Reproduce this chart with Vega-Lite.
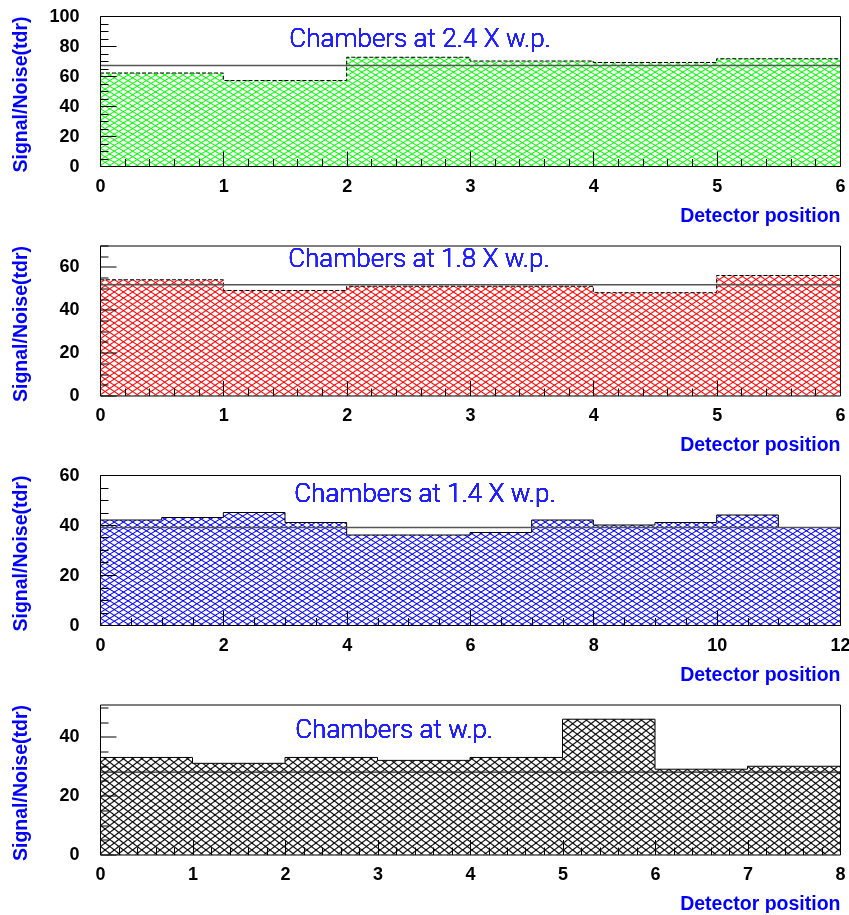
{
"$schema": "https://vega.github.io/schema/vega-lite/v6.json",
"background": "white",
"padding": {"left": 9, "top": 7, "right": 0, "bottom": 0},
"spacing": 79.5,
"bounds": "flush",
"config": {
 "view": {"stroke": null},
 "axis": {"grid": false, "zindex": 1, "labelFont": "Liberation Sans", "labelFontWeight": "bold", "labelFontSize": 18, "labelColor": "#000", "titleFont": "Liberation Sans", "titleFontWeight": "bold", "titleFontSize": 19.5, "titleColor": "#0000ff", "tickColor": "#000", "tickWidth": 1, "domainColor": "#000", "domainWidth": 1, "labelOverlap": false, "labelFlush": false},
 "style": {
  "hatchA": {"color": {"gradient": "linear", "x1": 0, "y1": 1, "x2": 1.172, "y2": 0.72, "stops": [
{"offset":0,"color":"#fff"},{"offset":0.002,"color":"#000"},{"offset":0.004,"color":"#fff"},
{"offset":0.01,"color":"#fff"},{"offset":0.012,"color":"#000"},{"offset":0.014,"color":"#fff"},
{"offset":0.02,"color":"#fff"},{"offset":0.022,"color":"#000"},{"offset":0.024,"color":"#fff"},
{"offset":0.03,"color":"#fff"},{"offset":0.032,"color":"#000"},{"offset":0.034,"color":"#fff"},
{"offset":0.04,"color":"#fff"},{"offset":0.042,"color":"#000"},{"offset":0.044,"color":"#fff"},
{"offset":0.05,"color":"#fff"},{"offset":0.052,"color":"#000"},{"offset":0.054,"color":"#fff"},
{"offset":0.06,"color":"#fff"},{"offset":0.062,"color":"#000"},{"offset":0.064,"color":"#fff"},
{"offset":0.07,"color":"#fff"},{"offset":0.072,"color":"#000"},{"offset":0.074,"color":"#fff"},
{"offset":0.08,"color":"#fff"},{"offset":0.082,"color":"#000"},{"offset":0.084,"color":"#fff"},
{"offset":0.09,"color":"#fff"},{"offset":0.092,"color":"#000"},{"offset":0.094,"color":"#fff"},
{"offset":0.1,"color":"#fff"},{"offset":0.102,"color":"#000"},{"offset":0.104,"color":"#fff"},
{"offset":0.11,"color":"#fff"},{"offset":0.112,"color":"#000"},{"offset":0.114,"color":"#fff"},
{"offset":0.12,"color":"#fff"},{"offset":0.122,"color":"#000"},{"offset":0.124,"color":"#fff"},
{"offset":0.13,"color":"#fff"},{"offset":0.132,"color":"#000"},{"offset":0.134,"color":"#fff"},
{"offset":0.14,"color":"#fff"},{"offset":0.142,"color":"#000"},{"offset":0.144,"color":"#fff"},
{"offset":0.15,"color":"#fff"},{"offset":0.152,"color":"#000"},{"offset":0.154,"color":"#fff"},
{"offset":0.16,"color":"#fff"},{"offset":0.162,"color":"#000"},{"offset":0.164,"color":"#fff"},
{"offset":0.17,"color":"#fff"},{"offset":0.172,"color":"#000"},{"offset":0.174,"color":"#fff"},
{"offset":0.18,"color":"#fff"},{"offset":0.182,"color":"#000"},{"offset":0.184,"color":"#fff"},
{"offset":0.19,"color":"#fff"},{"offset":0.192,"color":"#000"},{"offset":0.194,"color":"#fff"},
{"offset":0.2,"color":"#fff"},{"offset":0.202,"color":"#000"},{"offset":0.204,"color":"#fff"},
{"offset":0.21,"color":"#fff"},{"offset":0.212,"color":"#000"},{"offset":0.214,"color":"#fff"},
{"offset":0.22,"color":"#fff"},{"offset":0.222,"color":"#000"},{"offset":0.224,"color":"#fff"},
{"offset":0.23,"color":"#fff"},{"offset":0.232,"color":"#000"},{"offset":0.234,"color":"#fff"},
{"offset":0.24,"color":"#fff"},{"offset":0.242,"color":"#000"},{"offset":0.244,"color":"#fff"},
{"offset":0.25,"color":"#fff"},{"offset":0.252,"color":"#000"},{"offset":0.254,"color":"#fff"},
{"offset":0.26,"color":"#fff"},{"offset":0.262,"color":"#000"},{"offset":0.264,"color":"#fff"},
{"offset":0.27,"color":"#fff"},{"offset":0.272,"color":"#000"},{"offset":0.274,"color":"#fff"},
{"offset":0.28,"color":"#fff"},{"offset":0.282,"color":"#000"},{"offset":0.284,"color":"#fff"},
{"offset":0.29,"color":"#fff"},{"offset":0.292,"color":"#000"},{"offset":0.294,"color":"#fff"},
{"offset":0.3,"color":"#fff"},{"offset":0.302,"color":"#000"},{"offset":0.304,"color":"#fff"},
{"offset":0.31,"color":"#fff"},{"offset":0.312,"color":"#000"},{"offset":0.314,"color":"#fff"},
{"offset":0.32,"color":"#fff"},{"offset":0.322,"color":"#000"},{"offset":0.324,"color":"#fff"},
{"offset":0.33,"color":"#fff"},{"offset":0.332,"color":"#000"},{"offset":0.334,"color":"#fff"},
{"offset":0.34,"color":"#fff"},{"offset":0.342,"color":"#000"},{"offset":0.344,"color":"#fff"},
{"offset":0.35,"color":"#fff"},{"offset":0.352,"color":"#000"},{"offset":0.354,"color":"#fff"},
{"offset":0.36,"color":"#fff"},{"offset":0.362,"color":"#000"},{"offset":0.364,"color":"#fff"},
{"offset":0.37,"color":"#fff"},{"offset":0.372,"color":"#000"},{"offset":0.374,"color":"#fff"},
{"offset":0.38,"color":"#fff"},{"offset":0.382,"color":"#000"},{"offset":0.384,"color":"#fff"},
{"offset":0.39,"color":"#fff"},{"offset":0.392,"color":"#000"},{"offset":0.394,"color":"#fff"},
{"offset":0.4,"color":"#fff"},{"offset":0.402,"color":"#000"},{"offset":0.404,"color":"#fff"},
{"offset":0.41,"color":"#fff"},{"offset":0.412,"color":"#000"},{"offset":0.414,"color":"#fff"},
{"offset":0.42,"color":"#fff"},{"offset":0.422,"color":"#000"},{"offset":0.424,"color":"#fff"},
{"offset":0.43,"color":"#fff"},{"offset":0.432,"color":"#000"},{"offset":0.434,"color":"#fff"},
{"offset":0.44,"color":"#fff"},{"offset":0.442,"color":"#000"},{"offset":0.444,"color":"#fff"},
{"offset":0.45,"color":"#fff"},{"offset":0.452,"color":"#000"},{"offset":0.454,"color":"#fff"},
{"offset":0.46,"color":"#fff"},{"offset":0.462,"color":"#000"},{"offset":0.464,"color":"#fff"},
{"offset":0.47,"color":"#fff"},{"offset":0.472,"color":"#000"},{"offset":0.474,"color":"#fff"},
{"offset":0.48,"color":"#fff"},{"offset":0.482,"color":"#000"},{"offset":0.484,"color":"#fff"},
{"offset":0.49,"color":"#fff"},{"offset":0.492,"color":"#000"},{"offset":0.494,"color":"#fff"},
{"offset":0.5,"color":"#fff"},{"offset":0.502,"color":"#000"},{"offset":0.504,"color":"#fff"},
{"offset":0.51,"color":"#fff"},{"offset":0.512,"color":"#000"},{"offset":0.514,"color":"#fff"},
{"offset":0.52,"color":"#fff"},{"offset":0.522,"color":"#000"},{"offset":0.524,"color":"#fff"},
{"offset":0.53,"color":"#fff"},{"offset":0.532,"color":"#000"},{"offset":0.534,"color":"#fff"},
{"offset":0.54,"color":"#fff"},{"offset":0.542,"color":"#000"},{"offset":0.544,"color":"#fff"},
{"offset":0.55,"color":"#fff"},{"offset":0.552,"color":"#000"},{"offset":0.554,"color":"#fff"},
{"offset":0.56,"color":"#fff"},{"offset":0.562,"color":"#000"},{"offset":0.564,"color":"#fff"},
{"offset":0.57,"color":"#fff"},{"offset":0.572,"color":"#000"},{"offset":0.574,"color":"#fff"},
{"offset":0.58,"color":"#fff"},{"offset":0.582,"color":"#000"},{"offset":0.584,"color":"#fff"},
{"offset":0.59,"color":"#fff"},{"offset":0.592,"color":"#000"},{"offset":0.594,"color":"#fff"},
{"offset":0.6,"color":"#fff"},{"offset":0.602,"color":"#000"},{"offset":0.604,"color":"#fff"},
{"offset":0.61,"color":"#fff"},{"offset":0.612,"color":"#000"},{"offset":0.614,"color":"#fff"},
{"offset":0.62,"color":"#fff"},{"offset":0.622,"color":"#000"},{"offset":0.624,"color":"#fff"},
{"offset":0.63,"color":"#fff"},{"offset":0.632,"color":"#000"},{"offset":0.634,"color":"#fff"},
{"offset":0.64,"color":"#fff"},{"offset":0.642,"color":"#000"},{"offset":0.644,"color":"#fff"},
{"offset":0.65,"color":"#fff"},{"offset":0.652,"color":"#000"},{"offset":0.654,"color":"#fff"},
{"offset":0.66,"color":"#fff"},{"offset":0.662,"color":"#000"},{"offset":0.664,"color":"#fff"},
{"offset":0.67,"color":"#fff"},{"offset":0.672,"color":"#000"},{"offset":0.674,"color":"#fff"},
{"offset":0.68,"color":"#fff"},{"offset":0.682,"color":"#000"},{"offset":0.684,"color":"#fff"},
{"offset":0.69,"color":"#fff"},{"offset":0.692,"color":"#000"},{"offset":0.694,"color":"#fff"},
{"offset":0.7,"color":"#fff"},{"offset":0.702,"color":"#000"},{"offset":0.704,"color":"#fff"},
{"offset":0.71,"color":"#fff"},{"offset":0.712,"color":"#000"},{"offset":0.714,"color":"#fff"},
{"offset":0.72,"color":"#fff"},{"offset":0.722,"color":"#000"},{"offset":0.724,"color":"#fff"},
{"offset":0.73,"color":"#fff"},{"offset":0.732,"color":"#000"},{"offset":0.734,"color":"#fff"},
{"offset":0.74,"color":"#fff"},{"offset":0.742,"color":"#000"},{"offset":0.744,"color":"#fff"},
{"offset":0.75,"color":"#fff"},{"offset":0.752,"color":"#000"},{"offset":0.754,"color":"#fff"},
{"offset":0.76,"color":"#fff"},{"offset":0.762,"color":"#000"},{"offset":0.764,"color":"#fff"},
{"offset":0.77,"color":"#fff"},{"offset":0.772,"color":"#000"},{"offset":0.774,"color":"#fff"},
{"offset":0.78,"color":"#fff"},{"offset":0.782,"color":"#000"},{"offset":0.784,"color":"#fff"},
{"offset":0.79,"color":"#fff"},{"offset":0.792,"color":"#000"},{"offset":0.794,"color":"#fff"},
{"offset":0.8,"color":"#fff"},{"offset":0.802,"color":"#000"},{"offset":0.804,"color":"#fff"},
{"offset":0.81,"color":"#fff"},{"offset":0.812,"color":"#000"},{"offset":0.814,"color":"#fff"},
{"offset":0.82,"color":"#fff"},{"offset":0.822,"color":"#000"},{"offset":0.824,"color":"#fff"},
{"offset":0.83,"color":"#fff"},{"offset":0.832,"color":"#000"},{"offset":0.834,"color":"#fff"},
{"offset":0.84,"color":"#fff"},{"offset":0.842,"color":"#000"},{"offset":0.844,"color":"#fff"},
{"offset":0.85,"color":"#fff"},{"offset":0.852,"color":"#000"},{"offset":0.854,"color":"#fff"},
{"offset":0.86,"color":"#fff"},{"offset":0.862,"color":"#000"},{"offset":0.864,"color":"#fff"},
{"offset":0.87,"color":"#fff"},{"offset":0.872,"color":"#000"},{"offset":0.874,"color":"#fff"},
{"offset":0.88,"color":"#fff"},{"offset":0.882,"color":"#000"},{"offset":0.884,"color":"#fff"},
{"offset":0.89,"color":"#fff"},{"offset":0.892,"color":"#000"},{"offset":0.894,"color":"#fff"},
{"offset":0.9,"color":"#fff"},{"offset":0.902,"color":"#000"},{"offset":0.904,"color":"#fff"},
{"offset":0.91,"color":"#fff"},{"offset":0.912,"color":"#000"},{"offset":0.914,"color":"#fff"},
{"offset":0.92,"color":"#fff"},{"offset":0.922,"color":"#000"},{"offset":0.924,"color":"#fff"},
{"offset":0.93,"color":"#fff"},{"offset":0.932,"color":"#000"},{"offset":0.934,"color":"#fff"},
{"offset":0.94,"color":"#fff"},{"offset":0.942,"color":"#000"},{"offset":0.944,"color":"#fff"},
{"offset":0.95,"color":"#fff"},{"offset":0.952,"color":"#000"},{"offset":0.954,"color":"#fff"},
{"offset":0.96,"color":"#fff"},{"offset":0.962,"color":"#000"},{"offset":0.964,"color":"#fff"},
{"offset":0.97,"color":"#fff"},{"offset":0.972,"color":"#000"},{"offset":0.974,"color":"#fff"},
{"offset":0.98,"color":"#fff"},{"offset":0.982,"color":"#000"},{"offset":0.984,"color":"#fff"},
{"offset":0.99,"color":"#fff"},{"offset":0.992,"color":"#000"},{"offset":0.994,"color":"#fff"}
  ]}},
  "hatchB": {"color": {"gradient": "linear", "x1": 0, "y1": 0, "x2": 1.172, "y2": 0.28, "stops": [
{"offset":0,"color":"#fff"},{"offset":0.002,"color":"#000"},{"offset":0.004,"color":"#fff"},
{"offset":0.01,"color":"#fff"},{"offset":0.012,"color":"#000"},{"offset":0.014,"color":"#fff"},
{"offset":0.02,"color":"#fff"},{"offset":0.022,"color":"#000"},{"offset":0.024,"color":"#fff"},
{"offset":0.03,"color":"#fff"},{"offset":0.032,"color":"#000"},{"offset":0.034,"color":"#fff"},
{"offset":0.04,"color":"#fff"},{"offset":0.042,"color":"#000"},{"offset":0.044,"color":"#fff"},
{"offset":0.05,"color":"#fff"},{"offset":0.052,"color":"#000"},{"offset":0.054,"color":"#fff"},
{"offset":0.06,"color":"#fff"},{"offset":0.062,"color":"#000"},{"offset":0.064,"color":"#fff"},
{"offset":0.07,"color":"#fff"},{"offset":0.072,"color":"#000"},{"offset":0.074,"color":"#fff"},
{"offset":0.08,"color":"#fff"},{"offset":0.082,"color":"#000"},{"offset":0.084,"color":"#fff"},
{"offset":0.09,"color":"#fff"},{"offset":0.092,"color":"#000"},{"offset":0.094,"color":"#fff"},
{"offset":0.1,"color":"#fff"},{"offset":0.102,"color":"#000"},{"offset":0.104,"color":"#fff"},
{"offset":0.11,"color":"#fff"},{"offset":0.112,"color":"#000"},{"offset":0.114,"color":"#fff"},
{"offset":0.12,"color":"#fff"},{"offset":0.122,"color":"#000"},{"offset":0.124,"color":"#fff"},
{"offset":0.13,"color":"#fff"},{"offset":0.132,"color":"#000"},{"offset":0.134,"color":"#fff"},
{"offset":0.14,"color":"#fff"},{"offset":0.142,"color":"#000"},{"offset":0.144,"color":"#fff"},
{"offset":0.15,"color":"#fff"},{"offset":0.152,"color":"#000"},{"offset":0.154,"color":"#fff"},
{"offset":0.16,"color":"#fff"},{"offset":0.162,"color":"#000"},{"offset":0.164,"color":"#fff"},
{"offset":0.17,"color":"#fff"},{"offset":0.172,"color":"#000"},{"offset":0.174,"color":"#fff"},
{"offset":0.18,"color":"#fff"},{"offset":0.182,"color":"#000"},{"offset":0.184,"color":"#fff"},
{"offset":0.19,"color":"#fff"},{"offset":0.192,"color":"#000"},{"offset":0.194,"color":"#fff"},
{"offset":0.2,"color":"#fff"},{"offset":0.202,"color":"#000"},{"offset":0.204,"color":"#fff"},
{"offset":0.21,"color":"#fff"},{"offset":0.212,"color":"#000"},{"offset":0.214,"color":"#fff"},
{"offset":0.22,"color":"#fff"},{"offset":0.222,"color":"#000"},{"offset":0.224,"color":"#fff"},
{"offset":0.23,"color":"#fff"},{"offset":0.232,"color":"#000"},{"offset":0.234,"color":"#fff"},
{"offset":0.24,"color":"#fff"},{"offset":0.242,"color":"#000"},{"offset":0.244,"color":"#fff"},
{"offset":0.25,"color":"#fff"},{"offset":0.252,"color":"#000"},{"offset":0.254,"color":"#fff"},
{"offset":0.26,"color":"#fff"},{"offset":0.262,"color":"#000"},{"offset":0.264,"color":"#fff"},
{"offset":0.27,"color":"#fff"},{"offset":0.272,"color":"#000"},{"offset":0.274,"color":"#fff"},
{"offset":0.28,"color":"#fff"},{"offset":0.282,"color":"#000"},{"offset":0.284,"color":"#fff"},
{"offset":0.29,"color":"#fff"},{"offset":0.292,"color":"#000"},{"offset":0.294,"color":"#fff"},
{"offset":0.3,"color":"#fff"},{"offset":0.302,"color":"#000"},{"offset":0.304,"color":"#fff"},
{"offset":0.31,"color":"#fff"},{"offset":0.312,"color":"#000"},{"offset":0.314,"color":"#fff"},
{"offset":0.32,"color":"#fff"},{"offset":0.322,"color":"#000"},{"offset":0.324,"color":"#fff"},
{"offset":0.33,"color":"#fff"},{"offset":0.332,"color":"#000"},{"offset":0.334,"color":"#fff"},
{"offset":0.34,"color":"#fff"},{"offset":0.342,"color":"#000"},{"offset":0.344,"color":"#fff"},
{"offset":0.35,"color":"#fff"},{"offset":0.352,"color":"#000"},{"offset":0.354,"color":"#fff"},
{"offset":0.36,"color":"#fff"},{"offset":0.362,"color":"#000"},{"offset":0.364,"color":"#fff"},
{"offset":0.37,"color":"#fff"},{"offset":0.372,"color":"#000"},{"offset":0.374,"color":"#fff"},
{"offset":0.38,"color":"#fff"},{"offset":0.382,"color":"#000"},{"offset":0.384,"color":"#fff"},
{"offset":0.39,"color":"#fff"},{"offset":0.392,"color":"#000"},{"offset":0.394,"color":"#fff"},
{"offset":0.4,"color":"#fff"},{"offset":0.402,"color":"#000"},{"offset":0.404,"color":"#fff"},
{"offset":0.41,"color":"#fff"},{"offset":0.412,"color":"#000"},{"offset":0.414,"color":"#fff"},
{"offset":0.42,"color":"#fff"},{"offset":0.422,"color":"#000"},{"offset":0.424,"color":"#fff"},
{"offset":0.43,"color":"#fff"},{"offset":0.432,"color":"#000"},{"offset":0.434,"color":"#fff"},
{"offset":0.44,"color":"#fff"},{"offset":0.442,"color":"#000"},{"offset":0.444,"color":"#fff"},
{"offset":0.45,"color":"#fff"},{"offset":0.452,"color":"#000"},{"offset":0.454,"color":"#fff"},
{"offset":0.46,"color":"#fff"},{"offset":0.462,"color":"#000"},{"offset":0.464,"color":"#fff"},
{"offset":0.47,"color":"#fff"},{"offset":0.472,"color":"#000"},{"offset":0.474,"color":"#fff"},
{"offset":0.48,"color":"#fff"},{"offset":0.482,"color":"#000"},{"offset":0.484,"color":"#fff"},
{"offset":0.49,"color":"#fff"},{"offset":0.492,"color":"#000"},{"offset":0.494,"color":"#fff"},
{"offset":0.5,"color":"#fff"},{"offset":0.502,"color":"#000"},{"offset":0.504,"color":"#fff"},
{"offset":0.51,"color":"#fff"},{"offset":0.512,"color":"#000"},{"offset":0.514,"color":"#fff"},
{"offset":0.52,"color":"#fff"},{"offset":0.522,"color":"#000"},{"offset":0.524,"color":"#fff"},
{"offset":0.53,"color":"#fff"},{"offset":0.532,"color":"#000"},{"offset":0.534,"color":"#fff"},
{"offset":0.54,"color":"#fff"},{"offset":0.542,"color":"#000"},{"offset":0.544,"color":"#fff"},
{"offset":0.55,"color":"#fff"},{"offset":0.552,"color":"#000"},{"offset":0.554,"color":"#fff"},
{"offset":0.56,"color":"#fff"},{"offset":0.562,"color":"#000"},{"offset":0.564,"color":"#fff"},
{"offset":0.57,"color":"#fff"},{"offset":0.572,"color":"#000"},{"offset":0.574,"color":"#fff"},
{"offset":0.58,"color":"#fff"},{"offset":0.582,"color":"#000"},{"offset":0.584,"color":"#fff"},
{"offset":0.59,"color":"#fff"},{"offset":0.592,"color":"#000"},{"offset":0.594,"color":"#fff"},
{"offset":0.6,"color":"#fff"},{"offset":0.602,"color":"#000"},{"offset":0.604,"color":"#fff"},
{"offset":0.61,"color":"#fff"},{"offset":0.612,"color":"#000"},{"offset":0.614,"color":"#fff"},
{"offset":0.62,"color":"#fff"},{"offset":0.622,"color":"#000"},{"offset":0.624,"color":"#fff"},
{"offset":0.63,"color":"#fff"},{"offset":0.632,"color":"#000"},{"offset":0.634,"color":"#fff"},
{"offset":0.64,"color":"#fff"},{"offset":0.642,"color":"#000"},{"offset":0.644,"color":"#fff"},
{"offset":0.65,"color":"#fff"},{"offset":0.652,"color":"#000"},{"offset":0.654,"color":"#fff"},
{"offset":0.66,"color":"#fff"},{"offset":0.662,"color":"#000"},{"offset":0.664,"color":"#fff"},
{"offset":0.67,"color":"#fff"},{"offset":0.672,"color":"#000"},{"offset":0.674,"color":"#fff"},
{"offset":0.68,"color":"#fff"},{"offset":0.682,"color":"#000"},{"offset":0.684,"color":"#fff"},
{"offset":0.69,"color":"#fff"},{"offset":0.692,"color":"#000"},{"offset":0.694,"color":"#fff"},
{"offset":0.7,"color":"#fff"},{"offset":0.702,"color":"#000"},{"offset":0.704,"color":"#fff"},
{"offset":0.71,"color":"#fff"},{"offset":0.712,"color":"#000"},{"offset":0.714,"color":"#fff"},
{"offset":0.72,"color":"#fff"},{"offset":0.722,"color":"#000"},{"offset":0.724,"color":"#fff"},
{"offset":0.73,"color":"#fff"},{"offset":0.732,"color":"#000"},{"offset":0.734,"color":"#fff"},
{"offset":0.74,"color":"#fff"},{"offset":0.742,"color":"#000"},{"offset":0.744,"color":"#fff"},
{"offset":0.75,"color":"#fff"},{"offset":0.752,"color":"#000"},{"offset":0.754,"color":"#fff"},
{"offset":0.76,"color":"#fff"},{"offset":0.762,"color":"#000"},{"offset":0.764,"color":"#fff"},
{"offset":0.77,"color":"#fff"},{"offset":0.772,"color":"#000"},{"offset":0.774,"color":"#fff"},
{"offset":0.78,"color":"#fff"},{"offset":0.782,"color":"#000"},{"offset":0.784,"color":"#fff"},
{"offset":0.79,"color":"#fff"},{"offset":0.792,"color":"#000"},{"offset":0.794,"color":"#fff"},
{"offset":0.8,"color":"#fff"},{"offset":0.802,"color":"#000"},{"offset":0.804,"color":"#fff"},
{"offset":0.81,"color":"#fff"},{"offset":0.812,"color":"#000"},{"offset":0.814,"color":"#fff"},
{"offset":0.82,"color":"#fff"},{"offset":0.822,"color":"#000"},{"offset":0.824,"color":"#fff"},
{"offset":0.83,"color":"#fff"},{"offset":0.832,"color":"#000"},{"offset":0.834,"color":"#fff"},
{"offset":0.84,"color":"#fff"},{"offset":0.842,"color":"#000"},{"offset":0.844,"color":"#fff"},
{"offset":0.85,"color":"#fff"},{"offset":0.852,"color":"#000"},{"offset":0.854,"color":"#fff"},
{"offset":0.86,"color":"#fff"},{"offset":0.862,"color":"#000"},{"offset":0.864,"color":"#fff"},
{"offset":0.87,"color":"#fff"},{"offset":0.872,"color":"#000"},{"offset":0.874,"color":"#fff"},
{"offset":0.88,"color":"#fff"},{"offset":0.882,"color":"#000"},{"offset":0.884,"color":"#fff"},
{"offset":0.89,"color":"#fff"},{"offset":0.892,"color":"#000"},{"offset":0.894,"color":"#fff"},
{"offset":0.9,"color":"#fff"},{"offset":0.902,"color":"#000"},{"offset":0.904,"color":"#fff"},
{"offset":0.91,"color":"#fff"},{"offset":0.912,"color":"#000"},{"offset":0.914,"color":"#fff"},
{"offset":0.92,"color":"#fff"},{"offset":0.922,"color":"#000"},{"offset":0.924,"color":"#fff"},
{"offset":0.93,"color":"#fff"},{"offset":0.932,"color":"#000"},{"offset":0.934,"color":"#fff"},
{"offset":0.94,"color":"#fff"},{"offset":0.942,"color":"#000"},{"offset":0.944,"color":"#fff"},
{"offset":0.95,"color":"#fff"},{"offset":0.952,"color":"#000"},{"offset":0.954,"color":"#fff"},
{"offset":0.96,"color":"#fff"},{"offset":0.962,"color":"#000"},{"offset":0.964,"color":"#fff"},
{"offset":0.97,"color":"#fff"},{"offset":0.972,"color":"#000"},{"offset":0.974,"color":"#fff"},
{"offset":0.98,"color":"#fff"},{"offset":0.982,"color":"#000"},{"offset":0.984,"color":"#fff"},
{"offset":0.99,"color":"#fff"},{"offset":0.992,"color":"#000"},{"offset":0.994,"color":"#fff"}
  ]}}
 }
},
"vconcat": [
 {
  "width": 740, "height": 150,
  "data": {"values": [{"pos":0,"sn":62},{"pos":1,"sn":57},{"pos":2,"sn":72.5},{"pos":3,"sn":70},{"pos":4,"sn":69},{"pos":5,"sn":71.5},{"pos":6,"sn":71.5}]},
  "layer": [
   {"mark": {"type": "area", "style": "hatchA", "interpolate": "step-after"},
    "encoding": {
     "x": {"field": "pos", "type": "quantitative", "scale": {"domain": [0, 6], "nice": false, "zero": false},
      "axis": {"orient": "bottom", "zindex": 1, "values": [0,1,2,3,4,5,6], "format": "d", "ticks": false, "labelPadding": 11, "domain": true, "title": "Detector position", "titleAnchor": "end", "titleAlign": "right", "titleBaseline": "alphabetic", "titleY": 55}},
     "y": {"field": "sn", "type": "quantitative", "scale": {"domain": [0, 100], "nice": false},
      "axis": {"orient": "left", "zindex": 1, "values": [0,20,40,60,80,100], "format": "d", "ticks": false, "labelPadding": 21, "domain": true, "title": "Signal/Noise(tdr)", "titleAnchor": "end", "titleAlign": "right", "titleBaseline": "alphabetic", "titleX": -74, "titleY": 0}}
    }},
   {"mark": {"type": "area", "style": "hatchB", "interpolate": "step-after", "blend": "multiply"},
    "encoding": {
     "x": {"field": "pos", "type": "quantitative", "scale": {"domain": [0, 6], "nice": false, "zero": false},
      "axis": {"orient": "bottom", "zindex": 1, "values": [0,1,2,3,4,5,6], "labels": false, "domain": false, "tickSize": -15, "title": null}},
     "y": {"field": "sn", "type": "quantitative", "scale": {"domain": [0, 100], "nice": false},
      "axis": {"orient": "left", "zindex": 1, "values": [0,20,40,60,80,100], "labels": false, "domain": false, "tickSize": -16, "title": null}}
    }},
   {"mark": {"type": "area", "color": "#00ff00", "interpolate": "step-after", "blend": "lighten"},
    "encoding": {
     "x": {"field": "pos", "type": "quantitative", "scale": {"domain": [0, 6], "nice": false, "zero": false},
      "axis": {"orient": "bottom", "zindex": 1, "values": [0.2,0.4,0.6,0.8,1.2,1.4,1.6,1.8,2.2,2.4,2.6,2.8,3.2,3.4,3.6,3.8,4.2,4.4,4.6,4.8,5.2,5.4,5.6,5.8], "labels": false, "domain": false, "tickSize": -7.5, "title": null}},
     "y": {"field": "sn", "type": "quantitative", "scale": {"domain": [0, 100], "nice": false},
      "axis": {"orient": "left", "zindex": 1, "values": [5,10,15,25,30,35,45,50,55,65,70,75,85,90,95], "labels": false, "domain": false, "tickSize": -8, "title": null}}
    }},
   {"mark": {"type": "line", "interpolate": "step-after", "color": "#000", "strokeWidth": 1, "strokeDash": [4, 2]},
    "encoding": {
     "x": {"field": "pos", "type": "quantitative", "scale": {"domain": [0, 6], "nice": false, "zero": false},
      "axis": {"orient": "top", "zindex": 1, "labels": false, "ticks": false, "domain": true, "title": null}},
     "y": {"field": "sn", "type": "quantitative", "scale": {"domain": [0, 100], "nice": false},
      "axis": {"orient": "right", "zindex": 1, "labels": false, "ticks": false, "domain": true, "title": null}}
    }},
   {"data": {"values": [{"mean": 67}]},
    "mark": {"type": "rule", "color": "#555", "strokeWidth": 1.5},
    "encoding": {"y": {"field": "mean", "type": "quantitative", "scale": {"domain": [0, 100], "nice": false}, "axis": null}}},
   {"mark": {"type": "text", "text": "Chambers at 2.4 X w.p.", "font": "Roboto", "fontWeight": 300, "fontSize": 26, "color": "#2020ff", "align": "center", "baseline": "alphabetic"},
    "encoding": {
     "x": {"datum": 2.595, "type": "quantitative", "scale": {"domain": [0, 6], "nice": false, "zero": false}, "axis": null},
     "y": {"datum": 79.5, "type": "quantitative", "scale": {"domain": [0, 100], "nice": false}, "axis": null}
    }}
  ],
  "resolve": {"axis": {"x": "independent", "y": "independent"}}
 },
 {
  "width": 740, "height": 150,
  "data": {"values": [{"pos":0,"sn":54},{"pos":1,"sn":49},{"pos":2,"sn":51},{"pos":3,"sn":51},{"pos":4,"sn":48},{"pos":5,"sn":56},{"pos":6,"sn":56}]},
  "layer": [
   {"mark": {"type": "area", "style": "hatchA", "interpolate": "step-after"},
    "encoding": {
     "x": {"field": "pos", "type": "quantitative", "scale": {"domain": [0, 6], "nice": false, "zero": false},
      "axis": {"orient": "bottom", "zindex": 1, "values": [0,1,2,3,4,5,6], "format": "d", "ticks": false, "labelPadding": 11, "domain": true, "title": "Detector position", "titleAnchor": "end", "titleAlign": "right", "titleBaseline": "alphabetic", "titleY": 55}},
     "y": {"field": "sn", "type": "quantitative", "scale": {"domain": [0, 70], "nice": false},
      "axis": {"orient": "left", "zindex": 1, "values": [0,20,40,60], "format": "d", "ticks": false, "labelPadding": 21, "domain": true, "title": "Signal/Noise(tdr)", "titleAnchor": "end", "titleAlign": "right", "titleBaseline": "alphabetic", "titleX": -74, "titleY": 0}}
    }},
   {"mark": {"type": "area", "style": "hatchB", "interpolate": "step-after", "blend": "multiply"},
    "encoding": {
     "x": {"field": "pos", "type": "quantitative", "scale": {"domain": [0, 6], "nice": false, "zero": false},
      "axis": {"orient": "bottom", "zindex": 1, "values": [0,1,2,3,4,5,6], "labels": false, "domain": false, "tickSize": -15, "title": null}},
     "y": {"field": "sn", "type": "quantitative", "scale": {"domain": [0, 70], "nice": false},
      "axis": {"orient": "left", "zindex": 1, "values": [0,20,40,60], "labels": false, "domain": false, "tickSize": -16, "title": null}}
    }},
   {"mark": {"type": "area", "color": "#ff0000", "interpolate": "step-after", "blend": "lighten"},
    "encoding": {
     "x": {"field": "pos", "type": "quantitative", "scale": {"domain": [0, 6], "nice": false, "zero": false},
      "axis": {"orient": "bottom", "zindex": 1, "values": [0.2,0.4,0.6,0.8,1.2,1.4,1.6,1.8,2.2,2.4,2.6,2.8,3.2,3.4,3.6,3.8,4.2,4.4,4.6,4.8,5.2,5.4,5.6,5.8], "labels": false, "domain": false, "tickSize": -7.5, "title": null}},
     "y": {"field": "sn", "type": "quantitative", "scale": {"domain": [0, 70], "nice": false},
      "axis": {"orient": "left", "zindex": 1, "values": [5,10,15,25,30,35,45,50,55,65,70], "labels": false, "domain": false, "tickSize": -8, "title": null}}
    }},
   {"mark": {"type": "line", "interpolate": "step-after", "color": "#000", "strokeWidth": 1, "strokeDash": [4, 2]},
    "encoding": {
     "x": {"field": "pos", "type": "quantitative", "scale": {"domain": [0, 6], "nice": false, "zero": false},
      "axis": {"orient": "top", "zindex": 1, "labels": false, "ticks": false, "domain": true, "title": null}},
     "y": {"field": "sn", "type": "quantitative", "scale": {"domain": [0, 70], "nice": false},
      "axis": {"orient": "right", "zindex": 1, "labels": false, "ticks": false, "domain": true, "title": null}}
    }},
   {"data": {"values": [{"mean": 51.7}]},
    "mark": {"type": "rule", "color": "#555", "strokeWidth": 1.5},
    "encoding": {"y": {"field": "mean", "type": "quantitative", "scale": {"domain": [0, 70], "nice": false}, "axis": null}}},
   {"mark": {"type": "text", "text": "Chambers at 1.8 X w.p.", "font": "Roboto", "fontWeight": 300, "fontSize": 26, "color": "#2020ff", "align": "center", "baseline": "alphabetic"},
    "encoding": {
     "x": {"datum": 2.586, "type": "quantitative", "scale": {"domain": [0, 6], "nice": false, "zero": false}, "axis": null},
     "y": {"datum": 60, "type": "quantitative", "scale": {"domain": [0, 70], "nice": false}, "axis": null}
    }}
  ],
  "resolve": {"axis": {"x": "independent", "y": "independent"}}
 },
 {
  "width": 740, "height": 150,
  "data": {"values": [{"pos":0,"sn":42},{"pos":1,"sn":43},{"pos":2,"sn":45},{"pos":3,"sn":41},{"pos":4,"sn":36},{"pos":5,"sn":36},{"pos":6,"sn":37},{"pos":7,"sn":42},{"pos":8,"sn":40},{"pos":9,"sn":41},{"pos":10,"sn":44},{"pos":11,"sn":39},{"pos":12,"sn":39}]},
  "layer": [
   {"mark": {"type": "area", "style": "hatchA", "interpolate": "step-after"},
    "encoding": {
     "x": {"field": "pos", "type": "quantitative", "scale": {"domain": [0, 12], "nice": false, "zero": false},
      "axis": {"orient": "bottom", "zindex": 1, "values": [0,2,4,6,8,10,12], "format": "d", "ticks": false, "labelPadding": 11, "domain": true, "title": "Detector position", "titleAnchor": "end", "titleAlign": "right", "titleBaseline": "alphabetic", "titleY": 55}},
     "y": {"field": "sn", "type": "quantitative", "scale": {"domain": [0, 60], "nice": false},
      "axis": {"orient": "left", "zindex": 1, "values": [0,20,40,60], "format": "d", "ticks": false, "labelPadding": 21, "domain": true, "title": "Signal/Noise(tdr)", "titleAnchor": "end", "titleAlign": "right", "titleBaseline": "alphabetic", "titleX": -74, "titleY": 0}}
    }},
   {"mark": {"type": "area", "style": "hatchB", "interpolate": "step-after", "blend": "multiply"},
    "encoding": {
     "x": {"field": "pos", "type": "quantitative", "scale": {"domain": [0, 12], "nice": false, "zero": false},
      "axis": {"orient": "bottom", "zindex": 1, "values": [0,2,4,6,8,10,12], "labels": false, "domain": false, "tickSize": -15, "title": null}},
     "y": {"field": "sn", "type": "quantitative", "scale": {"domain": [0, 60], "nice": false},
      "axis": {"orient": "left", "zindex": 1, "values": [0,20,40,60], "labels": false, "domain": false, "tickSize": -16, "title": null}}
    }},
   {"mark": {"type": "area", "color": "#0000ff", "interpolate": "step-after", "blend": "lighten"},
    "encoding": {
     "x": {"field": "pos", "type": "quantitative", "scale": {"domain": [0, 12], "nice": false, "zero": false},
      "axis": {"orient": "bottom", "zindex": 1, "values": [0.5,1,1.5,2.5,3,3.5,4.5,5,5.5,6.5,7,7.5,8.5,9,9.5,10.5,11,11.5], "labels": false, "domain": false, "tickSize": -7.5, "title": null}},
     "y": {"field": "sn", "type": "quantitative", "scale": {"domain": [0, 60], "nice": false},
      "axis": {"orient": "left", "zindex": 1, "values": [5,10,15,25,30,35,45,50,55], "labels": false, "domain": false, "tickSize": -8, "title": null}}
    }},
   {"mark": {"type": "line", "interpolate": "step-after", "color": "#000", "strokeWidth": 1},
    "encoding": {
     "x": {"field": "pos", "type": "quantitative", "scale": {"domain": [0, 12], "nice": false, "zero": false},
      "axis": {"orient": "top", "zindex": 1, "labels": false, "ticks": false, "domain": true, "title": null}},
     "y": {"field": "sn", "type": "quantitative", "scale": {"domain": [0, 60], "nice": false},
      "axis": {"orient": "right", "zindex": 1, "labels": false, "ticks": false, "domain": true, "title": null}}
    }},
   {"data": {"values": [{"mean": 39}]},
    "mark": {"type": "rule", "color": "#555", "strokeWidth": 1.5},
    "encoding": {"y": {"field": "mean", "type": "quantitative", "scale": {"domain": [0, 60], "nice": false}, "axis": null}}},
   {"mark": {"type": "text", "text": "Chambers at 1.4 X w.p.", "font": "Roboto", "fontWeight": 300, "fontSize": 26, "color": "#2020ff", "align": "center", "baseline": "alphabetic"},
    "encoding": {
     "x": {"datum": 5.27, "type": "quantitative", "scale": {"domain": [0, 12], "nice": false, "zero": false}, "axis": null},
     "y": {"datum": 49.3, "type": "quantitative", "scale": {"domain": [0, 60], "nice": false}, "axis": null}
    }}
  ],
  "resolve": {"axis": {"x": "independent", "y": "independent"}}
 },
 {
  "width": 740, "height": 150,
  "data": {"values": [{"pos":0,"sn":33},{"pos":1,"sn":31},{"pos":2,"sn":33},{"pos":3,"sn":32},{"pos":4,"sn":33},{"pos":5,"sn":46},{"pos":6,"sn":29},{"pos":7,"sn":30},{"pos":8,"sn":30}]},
  "layer": [
   {"mark": {"type": "area", "style": "hatchA", "interpolate": "step-after"},
    "encoding": {
     "x": {"field": "pos", "type": "quantitative", "scale": {"domain": [0, 8], "nice": false, "zero": false},
      "axis": {"orient": "bottom", "zindex": 1, "values": [0,1,2,3,4,5,6,7,8], "format": "d", "ticks": false, "labelPadding": 11, "domain": true, "title": "Detector position", "titleAnchor": "end", "titleAlign": "right", "titleBaseline": "alphabetic", "titleY": 55}},
     "y": {"field": "sn", "type": "quantitative", "scale": {"domain": [0, 51], "nice": false},
      "axis": {"orient": "left", "zindex": 1, "values": [0,20,40], "format": "d", "ticks": false, "labelPadding": 21, "domain": true, "title": "Signal/Noise(tdr)", "titleAnchor": "end", "titleAlign": "right", "titleBaseline": "alphabetic", "titleX": -74, "titleY": 0}}
    }},
   {"mark": {"type": "area", "style": "hatchB", "interpolate": "step-after", "blend": "multiply"},
    "encoding": {
     "x": {"field": "pos", "type": "quantitative", "scale": {"domain": [0, 8], "nice": false, "zero": false},
      "axis": {"orient": "bottom", "zindex": 1, "values": [0,1,2,3,4,5,6,7,8], "labels": false, "domain": false, "tickSize": -15, "title": null}},
     "y": {"field": "sn", "type": "quantitative", "scale": {"domain": [0, 51], "nice": false},
      "axis": {"orient": "left", "zindex": 1, "values": [0,20,40], "labels": false, "domain": false, "tickSize": -16, "title": null}}
    }},
   {"mark": {"type": "area", "color": "#000000", "interpolate": "step-after", "blend": "lighten"},
    "encoding": {
     "x": {"field": "pos", "type": "quantitative", "scale": {"domain": [0, 8], "nice": false, "zero": false},
      "axis": {"orient": "bottom", "zindex": 1, "values": [0.2,0.4,0.6,0.8,1.2,1.4,1.6,1.8,2.2,2.4,2.6,2.8,3.2,3.4,3.6,3.8,4.2,4.4,4.6,4.8,5.2,5.4,5.6,5.8,6.2,6.4,6.6,6.8,7.2,7.4,7.6,7.8], "labels": false, "domain": false, "tickSize": -7.5, "title": null}},
     "y": {"field": "sn", "type": "quantitative", "scale": {"domain": [0, 51], "nice": false},
      "axis": {"orient": "left", "zindex": 1, "values": [5,10,15,25,30,35,45,50], "labels": false, "domain": false, "tickSize": -8, "title": null}}
    }},
   {"mark": {"type": "line", "interpolate": "step-after", "color": "#000", "strokeWidth": 1},
    "encoding": {
     "x": {"field": "pos", "type": "quantitative", "scale": {"domain": [0, 8], "nice": false, "zero": false},
      "axis": {"orient": "top", "zindex": 1, "labels": false, "ticks": false, "domain": true, "title": null}},
     "y": {"field": "sn", "type": "quantitative", "scale": {"domain": [0, 51], "nice": false},
      "axis": {"orient": "right", "zindex": 1, "labels": false, "ticks": false, "domain": true, "title": null}}
    }},
   {"data": {"values": [{"mean": 28}]},
    "mark": {"type": "rule", "color": "#222", "strokeWidth": 1.2},
    "encoding": {"y": {"field": "mean", "type": "quantitative", "scale": {"domain": [0, 51], "nice": false}, "axis": null}}},
   {"mark": {"type": "text", "text": "Chambers at w.p.", "font": "Roboto", "fontWeight": 300, "fontSize": 26, "color": "#2020ff", "align": "center", "baseline": "alphabetic"},
    "encoding": {
     "x": {"datum": 3.18, "type": "quantitative", "scale": {"domain": [0, 8], "nice": false, "zero": false}, "axis": null},
     "y": {"datum": 39.7, "type": "quantitative", "scale": {"domain": [0, 51], "nice": false}, "axis": null}
    }}
  ],
  "resolve": {"axis": {"x": "independent", "y": "independent"}}
 }
]
}
